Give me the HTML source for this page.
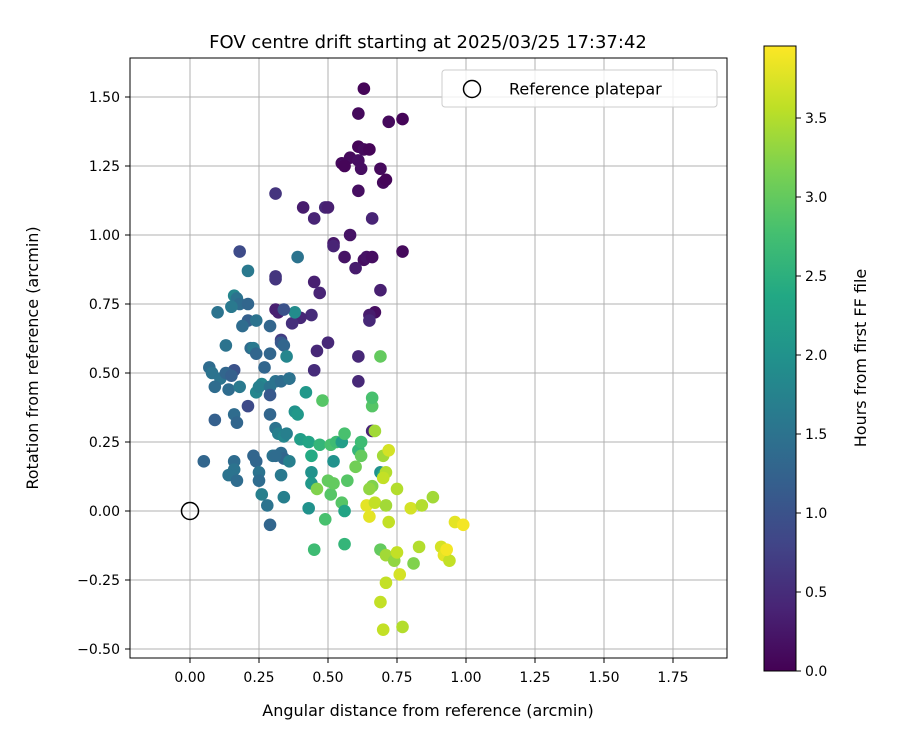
<!DOCTYPE html>
<html><head><meta charset="utf-8"><style>
body{margin:0;background:#fff;font-family:"Liberation Sans","DejaVu Sans",sans-serif}
svg text{font-family:"DejaVu Sans","Liberation Sans",sans-serif}
</style></head><body>
<svg id="chart" width="900" height="750" xmlns="http://www.w3.org/2000/svg">
<defs>
<linearGradient id="vir" x1="0" y1="1" x2="0" y2="0">
<stop offset="0" stop-color="#440154"/><stop offset="0.1" stop-color="#482475"/><stop offset="0.2" stop-color="#414487"/><stop offset="0.3" stop-color="#355f8d"/><stop offset="0.4" stop-color="#2a788e"/><stop offset="0.5" stop-color="#21918c"/><stop offset="0.6" stop-color="#22a884"/><stop offset="0.7" stop-color="#44bf70"/><stop offset="0.8" stop-color="#7ad151"/><stop offset="0.9" stop-color="#bddf26"/><stop offset="1" stop-color="#fde725"/>
</linearGradient>
<clipPath id="clip"><rect x="130" y="58" width="597" height="600"/></clipPath>
</defs>
<g id="grid"></g>
<g id="points" clip-path="url(#clip)"></g>
<rect x="130" y="58" width="597" height="600" fill="none" stroke="#000" stroke-width="1"/>
<g id="ticks"></g>
<text x="428" y="48" font-size="18" text-anchor="middle">FOV centre drift starting at 2025/03/25 17:37:42</text>
<text x="428" y="716" font-size="16" text-anchor="middle">Angular distance from reference (arcmin)</text>
<text transform="translate(38,358) rotate(-90)" font-size="16" text-anchor="middle">Rotation from reference (arcmin)</text>
<g>
<rect x="442" y="70" width="275" height="37" rx="3" fill="#fff" fill-opacity="0.8" stroke="#ccc"/>
<circle cx="472" cy="89" r="8.5" fill="none" stroke="#000" stroke-width="1.5"/>
<text x="509" y="94.5" font-size="16">Reference platepar</text>
</g>
<rect x="764" y="46" width="32" height="625" fill="url(#vir)" stroke="#000" stroke-width="1"/>
<g id="cticks"></g>
<text transform="translate(866,358) rotate(-90)" font-size="16" text-anchor="middle">Hours from first FF file</text>
</svg>
<script>
const xTicks=[0,0.25,0.5,0.75,1.0,1.25,1.5,1.75];
const xTickLabels=["0.00","0.25","0.50","0.75","1.00","1.25","1.50","1.75"];
const yTicks=[-0.5,-0.25,0,0.25,0.5,0.75,1.0,1.25,1.5];
const yTickLabels=["−0.50","−0.25","0.00","0.25","0.50","0.75","1.00","1.25","1.50"];
const cTicks=[0,0.5,1,1.5,2,2.5,3,3.5];
const cTickLabels=["0.0","0.5","1.0","1.5","2.0","2.5","3.0","3.5"];
const refPoint=[0,0];
const pts=[
[0.63,1.53,0.05],[0.61,1.44,0.1],[0.72,1.41,0.1],[0.77,1.42,0.05],[0.61,1.32,0.05],[0.63,1.31,0.1],[0.65,1.31,0.05],[0.58,1.28,0.1],[0.55,1.26,0.1],[0.56,1.25,0.05],[0.61,1.27,0.15],[0.62,1.24,0.15],[0.69,1.24,0.1],[0.70,1.19,0.1],[0.61,1.16,0.15],[0.71,1.20,0.05],
[0.31,1.15,0.6],[0.41,1.10,0.3],[0.45,1.06,0.4],[0.49,1.10,0.45],[0.50,1.10,0.35],[0.66,1.06,0.4],[0.58,1.00,0.2],[0.52,0.97,0.25],[0.52,0.96,0.4],[0.56,0.92,0.2],[0.63,0.91,0.15],[0.64,0.92,0.2],[0.66,0.92,0.15],[0.60,0.88,0.3],[0.77,0.94,0.1],[0.69,0.80,0.35],[0.31,0.85,0.6],[0.31,0.84,0.6],[0.45,0.83,0.35],[0.47,0.79,0.4],[0.31,0.73,0.35],[0.32,0.72,0.35],[0.67,0.72,0.15],[0.65,0.71,0.3],[0.65,0.69,0.45],[0.44,0.71,0.5],[0.40,0.70,0.45],[0.37,0.68,0.55],[0.50,0.61,0.45],[0.46,0.58,0.45],[0.61,0.56,0.45],[0.61,0.47,0.45],[0.45,0.51,0.5],[0.36,0.48,0.7],[0.66,0.29,0.4],[0.33,0.62,0.7],
[0.18,0.94,0.9],[0.21,0.87,1.6],[0.39,0.92,1.5],[0.16,0.78,1.8],[0.17,0.77,1.5],[0.18,0.75,1.4],[0.21,0.75,1.3],[0.10,0.72,1.5],[0.15,0.74,1.6],[0.21,0.69,1.2],[0.24,0.69,1.5],[0.19,0.67,1.4],[0.38,0.72,1.9],[0.29,0.67,1.3],[0.34,0.73,1.0],[0.33,0.61,1.1],[0.34,0.60,1.3],[0.35,0.56,1.8],[0.13,0.60,1.5],[0.22,0.59,1.4],[0.23,0.59,1.6],[0.24,0.57,1.3],[0.29,0.57,1.3],[0.07,0.52,1.4],[0.08,0.50,1.5],[0.11,0.48,1.5],[0.09,0.45,1.4],[0.14,0.44,1.4],[0.16,0.51,1.0],[0.13,0.50,1.3],[0.15,0.49,1.2],[0.18,0.45,1.6],[0.24,0.43,1.8],[0.26,0.46,1.8],[0.25,0.45,1.7],[0.29,0.45,1.5],[0.29,0.42,1.1],[0.31,0.47,1.5],[0.33,0.47,1.4],[0.36,0.48,1.5],[0.27,0.52,1.3],[0.21,0.38,0.9],[0.09,0.33,1.2],[0.16,0.35,1.4],[0.17,0.32,1.3],[0.29,0.35,1.3],[0.31,0.30,1.5],[0.32,0.28,1.7],[0.34,0.27,1.8],[0.35,0.28,1.7],[0.38,0.36,2.0],[0.39,0.35,2.1],[0.42,0.43,2.1],[0.40,0.26,2.2],[0.43,0.25,2.3],[0.48,0.40,2.9],[0.05,0.18,1.3],[0.16,0.18,1.4],[0.16,0.15,1.5],[0.14,0.13,1.5],[0.17,0.11,1.4],[0.23,0.20,1.3],[0.24,0.18,1.3],[0.25,0.14,1.5],[0.25,0.11,1.4],[0.30,0.20,1.5],[0.33,0.21,1.4],[0.34,0.19,1.3],[0.36,0.18,1.7],[0.31,0.20,1.4],[0.26,0.06,1.7],[0.28,0.02,1.5],[0.33,0.13,1.6],[0.34,0.05,1.7],[0.29,-0.05,1.3],[0.44,0.14,2.0],[0.44,0.10,2.1],[0.43,0.01,2.0],[0.44,0.20,2.4],[0.47,0.24,2.6],[0.51,0.24,2.8],[0.52,0.18,2.0],[0.53,0.25,2.7],[0.55,0.25,2.2],[0.56,0.28,2.8],[0.46,0.08,3.2],[0.50,0.11,3.0],[0.49,-0.03,2.8],[0.51,0.06,2.9],[0.52,0.10,3.0],[0.55,0.03,2.9],[0.56,0.00,2.3],[0.57,0.11,2.9],[0.60,0.16,3.1],[0.61,0.22,2.6],[0.62,0.25,2.7],[0.45,-0.14,2.7],[0.56,-0.12,2.6],[0.62,0.20,3.0],[0.66,0.38,2.9],[0.66,0.41,2.8],[0.69,0.56,3.0],[0.67,0.29,3.4],[0.69,0.14,2.0],[0.70,0.13,2.4],[0.66,0.09,3.2],[0.65,0.08,3.3],[0.64,0.02,3.8],[0.67,0.03,3.6],[0.65,-0.02,3.8],[0.70,0.20,3.4],[0.72,0.22,3.7],[0.71,0.14,3.5],[0.70,0.12,3.6],[0.71,0.02,3.4],[0.72,-0.04,3.6],[0.75,0.08,3.5],[0.80,0.01,3.7],[0.84,0.02,3.5],[0.88,0.05,3.4],[0.69,-0.14,3.0],[0.71,-0.16,3.4],[0.74,-0.18,3.3],[0.75,-0.15,3.6],[0.81,-0.19,3.2],[0.83,-0.13,3.5],[0.76,-0.23,3.7],[0.71,-0.26,3.6],[0.69,-0.33,3.6],[0.70,-0.43,3.6],[0.77,-0.42,3.5],[0.91,-0.13,3.7],[0.92,-0.16,3.8],[0.94,-0.18,3.6],[0.96,-0.04,3.8],[0.99,-0.05,3.9],[0.93,-0.14,3.9]
];
const NS="http://www.w3.org/2000/svg";
function X(v){return 190+v*276;}
function Y(v){return 511-v*276;}
function C(v){return 671-v*158;}
const cmin=0,cmax=3.956;
const vir=[[68,1,84],[72,36,117],[65,68,135],[53,95,141],[42,120,142],[33,145,140],[34,168,132],[68,191,112],[122,209,81],[189,223,38],[253,231,37]];
function col(t){let f=Math.max(0,Math.min(1,(t-cmin)/(cmax-cmin)))*10;let i=Math.min(9,Math.floor(f)),r=f-i;const a=vir[i],b=vir[i+1];return `rgb(${a.map((c,k)=>Math.round(c+(b[k]-c)*r)).join(",")})`;}
function mk(tag,at,parent){const e=document.createElementNS(NS,tag);for(const k in at)e.setAttribute(k,at[k]);parent.appendChild(e);return e;}
const grid=document.getElementById('grid'),ticks=document.getElementById('ticks'),pg=document.getElementById('points'),ct=document.getElementById('cticks');
xTicks.forEach((v,i)=>{
 const g=mk('line',{x1:X(v),x2:X(v),y1:58,y2:658,stroke:'#b0b0b0','stroke-width':1},grid);
 
 
 mk('line',{x1:X(v),x2:X(v),y1:658,y2:663,stroke:'#000'},ticks);
 const t=mk('text',{x:X(v),y:682,'font-size':14,'text-anchor':'middle'},ticks);t.textContent=xTickLabels[i];
 
 
});
yTicks.forEach((v,i)=>{
 const g=mk('line',{x1:130,x2:727,y1:Y(v),y2:Y(v),stroke:'#b0b0b0','stroke-width':1},grid);
 
 
 mk('line',{x1:125,x2:130,y1:Y(v),y2:Y(v),stroke:'#000'},ticks);
 const t=mk('text',{x:120,y:Y(v)+5,'font-size':14,'text-anchor':'end'},ticks);t.textContent=yTickLabels[i];
 
 
});
pts.forEach(p=>{
 const c=mk('circle',{cx:X(p[0]),cy:Y(p[1]),r:6.3,fill:col(p[2])},pg);
 
 
});
const ref=mk('circle',{cx:X(refPoint[0]),cy:Y(refPoint[1]),r:8.5,fill:'none',stroke:'#000','stroke-width':1.5},pg);


cTicks.forEach((v,i)=>{
 mk('line',{x1:796,x2:801,y1:C(v),y2:C(v),stroke:'#000'},ct);
 const t=mk('text',{x:805,y:C(v)+5,'font-size':14},ct);t.textContent=cTickLabels[i];
 
 
});
</script>
</body></html>
